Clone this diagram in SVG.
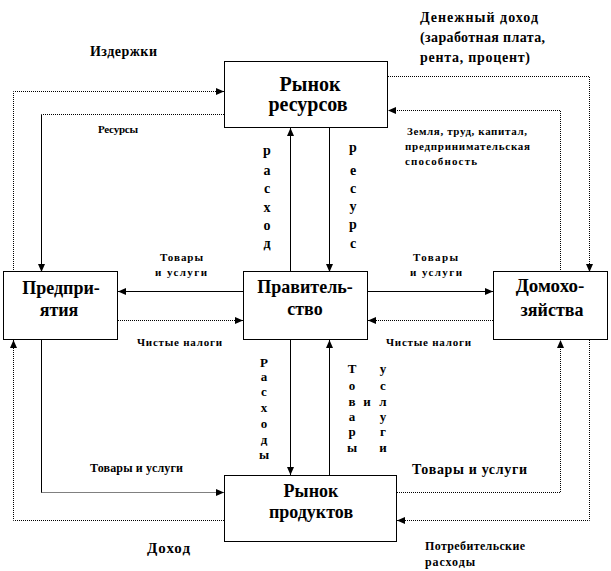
<svg xmlns="http://www.w3.org/2000/svg" width="611" height="571" viewBox="0 0 611 571">
<style>
text{font-family:"Times New Roman",Times,"Liberation Serif","DejaVu Serif",serif;font-weight:700;fill:#000}
.box{fill:#fff;stroke:#000;stroke-width:1}
.bt{font-size:18px;text-anchor:middle}
.s{fill:none;stroke:#000;stroke-width:1}
.d{fill:none;stroke:#000;stroke-width:1;stroke-dasharray:1 1}
.sm{font-size:11px}
.v{font-size:13px;text-anchor:middle}
</style>
<defs>
<marker id="ar" viewBox="0 0 8 7" refX="8" refY="3.5" markerWidth="8" markerHeight="7" markerUnits="userSpaceOnUse" orient="auto">
<path d="M0,0 L8,3.5 L0,7 z" fill="#000"/>
</marker>
</defs>
<rect width="611" height="571" fill="#fff"/>
<g id="connectors">
<path class="d" d="M13.5,272 V91.5 H224" marker-end="url(#ar)"/>
<path class="d" d="M224,114.5 H41.5"/>
<path class="s" d="M41.5,114.5 V272" marker-end="url(#ar)"/>
<path class="d" d="M388,76.5 H589.5 V272" marker-end="url(#ar)"/>
<path class="d" d="M560.5,272 V110.5 H388" marker-end="url(#ar)"/>
<path class="s" d="M290.5,272 V128" marker-end="url(#ar)"/>
<path class="s" d="M329.5,128 V272" marker-end="url(#ar)"/>
<path class="s" d="M243,291.5 H118" marker-end="url(#ar)"/>
<path class="d" d="M118,320.5 H243" marker-end="url(#ar)"/>
<path class="s" d="M368,291.5 H493" marker-end="url(#ar)"/>
<path class="d" d="M493,320.5 H368" marker-end="url(#ar)"/>
<path class="s" d="M41.5,340 V492.5"/>
<path class="d" d="M41.5,492.5 H224" marker-end="url(#ar)"/>
<path class="d" d="M224,520.5 H13.5 V340" marker-end="url(#ar)"/>
<path class="d" d="M397,492.5 H560.5 V340" marker-end="url(#ar)"/>
<path class="d" d="M589.5,340 V520.5 H397" marker-end="url(#ar)"/>
<path class="s" d="M290.5,340 V475" marker-end="url(#ar)"/>
<path class="s" d="M329.5,475 V340" marker-end="url(#ar)"/>
</g>
<g id="resource-market">
<rect class="box" x="224.5" y="61.5" width="163" height="66"/>
<text class="bt" x="310" y="91" style="font-size:20px">Рынок</text>
<text class="bt" x="308" y="111" style="font-size:20px">ресурсов</text>
</g>
<g id="firms">
<rect class="box" x="3.5" y="271.5" width="114" height="68"/>
<text class="bt" x="61" y="294">Предпри-</text>
<text class="bt" x="59" y="316">ятия</text>
</g>
<g id="government">
<rect class="box" x="243.5" y="271.5" width="124" height="68"/>
<text class="bt" x="305" y="293">Правитель-</text>
<text class="bt" x="305" y="315">ство</text>
</g>
<g id="households">
<rect class="box" x="493.5" y="271.5" width="114" height="68"/>
<text class="bt" x="550" y="292" style="font-size:19px">Домохо-</text>
<text class="bt" x="552" y="316">зяйства</text>
</g>
<g id="product-market">
<rect class="box" x="224.5" y="475.5" width="172" height="66"/>
<text class="bt" x="311" y="497">Рынок</text>
<text class="bt" x="311" y="518">продуктов</text>
</g>
<g id="labels">
<text x="90" y="56" style="font-size:14px" textLength="67">Издержки</text>
<text x="420" y="22" style="font-size:14px" textLength="118">Денежный доход</text>
<text x="420" y="42" style="font-size:14px" textLength="125">(заработная плата,</text>
<text x="420" y="62" style="font-size:14px" textLength="110">рента, процент)</text>
<text class="sm" x="98" y="133" textLength="40">Ресурсы</text>
<text class="sm" x="407" y="135" textLength="120">Земля, труд, капитал,</text>
<text class="sm" x="405" y="150" textLength="125">предпринимательская</text>
<text class="sm" x="405" y="165" textLength="72">способность</text>
<text class="sm" x="160" y="261" textLength="43">Товары</text>
<text class="sm" x="155" y="276" textLength="52">и услуги</text>
<text class="sm" x="413" y="261" textLength="45">Товары</text>
<text class="sm" x="410" y="276" textLength="52">и услуги</text>
<text class="sm" x="137" y="346" textLength="85">Чистые налоги</text>
<text class="sm" x="386" y="346" textLength="85">Чистые налоги</text>
<text x="90" y="472" style="font-size:12px" textLength="93">Товары и услуги</text>
<text x="412" y="474" style="font-size:14px" textLength="115">Товары и услуги</text>
<text x="147" y="553" style="font-size:15px" textLength="43">Доход</text>
<text x="425" y="550" style="font-size:12px" textLength="100">Потребительские</text>
<text x="425" y="566" style="font-size:12px" textLength="50">расходы</text>
<g class="v" style="font-size:14px">
<text x="267" y="155">р</text><text x="267" y="175">а</text><text x="267" y="193">с</text><text x="267" y="212">х</text><text x="267" y="230">о</text><text x="267" y="248">д</text>
<text x="353" y="152">р</text><text x="353" y="175">е</text><text x="353" y="193">с</text><text x="353" y="211">у</text><text x="353" y="229">р</text><text x="353" y="248">с</text>
</g>
<g class="v">
<text x="264" y="367">Р</text><text x="264" y="381">а</text><text x="264" y="396">с</text><text x="264" y="412">х</text><text x="264" y="428">о</text><text x="264" y="444">д</text><text x="264" y="459">ы</text>
<text x="352" y="373">Т</text><text x="352" y="390">о</text><text x="352" y="406">в</text><text x="352" y="421">а</text><text x="352" y="436">р</text><text x="352" y="452">ы</text>
<text x="367" y="406">и</text>
<text x="383" y="373">у</text><text x="383" y="390">с</text><text x="383" y="406">л</text><text x="383" y="421">у</text><text x="383" y="436">г</text><text x="383" y="452">и</text>
</g>
</g>
</svg>
